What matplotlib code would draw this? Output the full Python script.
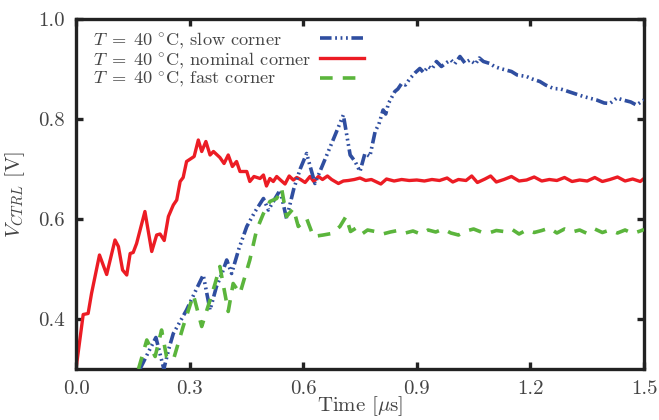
import matplotlib
matplotlib.use("Agg")
import matplotlib.pyplot as plt

plt.rcParams['font.family'] = 'serif'
plt.rcParams['font.serif'] = ['cmr10', 'DejaVu Serif']
plt.rcParams['mathtext.fontset'] = 'cm'
plt.rcParams['axes.formatter.use_mathtext'] = True

# ---------------- data ----------------
t_nom = [0.000, 0.019, 0.032, 0.041, 0.062, 0.081, 0.103, 0.112, 0.123, 0.134, 0.143, 0.151,
         0.160, 0.182, 0.200, 0.213, 0.222, 0.233, 0.244, 0.257, 0.266, 0.275, 0.283, 0.292,
         0.312, 0.323, 0.332, 0.343, 0.354, 0.363, 0.380, 0.391, 0.402, 0.413, 0.424, 0.433,
         0.451, 0.459, 0.470, 0.486, 0.495, 0.503, 0.512, 0.521, 0.530, 0.540, 0.552, 0.563,
         0.574, 0.583, 0.593, 0.605, 0.618, 0.628, 0.640, 0.651, 0.664, 0.675, 0.693, 0.706,
         0.719, 0.735, 0.750, 0.765, 0.780, 0.805, 0.820, 0.84, 0.86, 0.88, 0.90, 0.92, 0.94,
         0.96, 0.98, 0.995, 1.01, 1.03, 1.045, 1.06, 1.08, 1.095, 1.11, 1.13, 1.15, 1.17, 1.19,
         1.21, 1.23, 1.25, 1.27, 1.29, 1.31, 1.33, 1.35, 1.37, 1.39, 1.41, 1.43, 1.45, 1.47,
         1.49, 1.50]
v_nom = [0.300, 0.409, 0.411, 0.451, 0.528, 0.489, 0.558, 0.545, 0.498, 0.488, 0.531, 0.533,
         0.551, 0.615, 0.535, 0.568, 0.570, 0.557, 0.605, 0.628, 0.638, 0.675, 0.683, 0.715,
         0.725, 0.758, 0.735, 0.755, 0.728, 0.735, 0.723, 0.711, 0.728, 0.705, 0.715, 0.695,
         0.695, 0.675, 0.685, 0.681, 0.688, 0.666, 0.681, 0.675, 0.685, 0.678, 0.670, 0.686,
         0.678, 0.683, 0.679, 0.673, 0.685, 0.675, 0.685, 0.679, 0.686, 0.679, 0.671, 0.676,
         0.677, 0.679, 0.682, 0.677, 0.679, 0.670, 0.680, 0.676, 0.679, 0.677, 0.678, 0.676,
         0.679, 0.677, 0.682, 0.674, 0.679, 0.677, 0.686, 0.673, 0.680, 0.686, 0.674, 0.679,
         0.685, 0.676, 0.678, 0.684, 0.676, 0.679, 0.677, 0.683, 0.675, 0.678, 0.676, 0.683,
         0.675, 0.679, 0.684, 0.676, 0.680, 0.675, 0.681]

t_slow = [0.169, 0.190, 0.211, 0.232, 0.245, 0.257, 0.275, 0.292, 0.315, 0.336, 0.354, 0.371,
          0.385, 0.398, 0.411, 0.430, 0.451, 0.473, 0.495, 0.508, 0.525, 0.539, 0.556, 0.575,
          0.592, 0.609, 0.631, 0.653, 0.680, 0.706, 0.724, 0.737, 0.750, 0.763, 0.776, 0.790,
          0.800, 0.811, 0.818, 0.825, 0.835, 0.842, 0.850, 0.860, 0.870, 0.882, 0.895, 0.908,
          0.918, 0.930, 0.940, 0.952, 0.965, 0.979, 0.990, 1.000, 1.014, 1.027, 1.040, 1.055,
          1.065, 1.076, 1.093, 1.105, 1.120, 1.135, 1.150, 1.165, 1.190, 1.205, 1.225, 1.240,
          1.261, 1.280, 1.300, 1.320, 1.340, 1.355, 1.375, 1.395, 1.410, 1.428, 1.445, 1.465,
          1.480, 1.500]
v_slow = [0.300, 0.332, 0.363, 0.300, 0.340, 0.371, 0.395, 0.418, 0.455, 0.488, 0.418, 0.465,
          0.490, 0.518, 0.491, 0.540, 0.585, 0.615, 0.641, 0.618, 0.640, 0.658, 0.601, 0.660,
          0.700, 0.731, 0.671, 0.711, 0.760, 0.808, 0.728, 0.715, 0.695, 0.731, 0.725, 0.775,
          0.790, 0.818, 0.810, 0.831, 0.845, 0.855, 0.860, 0.871, 0.868, 0.881, 0.892, 0.901,
          0.893, 0.905, 0.900, 0.915, 0.905, 0.913, 0.918, 0.910, 0.925, 0.912, 0.918, 0.910,
          0.922, 0.915, 0.911, 0.905, 0.901, 0.898, 0.895, 0.888, 0.885, 0.880, 0.875, 0.868,
          0.861, 0.860, 0.855, 0.850, 0.845, 0.842, 0.838, 0.832, 0.831, 0.842, 0.838, 0.834,
          0.828, 0.838]

t_fast = [0.165, 0.187, 0.209, 0.226, 0.239, 0.257, 0.283, 0.297, 0.310, 0.332, 0.354, 0.367,
          0.380, 0.402, 0.415, 0.433, 0.459, 0.477, 0.495, 0.512, 0.530, 0.543, 0.556, 0.574,
          0.587, 0.609, 0.627, 0.653, 0.675, 0.697, 0.713, 0.725, 0.74, 0.755, 0.77, 0.79,
          0.81, 0.83, 0.85, 0.87, 0.89, 0.91, 0.93, 0.95, 0.97, 0.99, 1.01, 1.03, 1.05, 1.07,
          1.09, 1.11, 1.13, 1.15, 1.17, 1.19, 1.21, 1.23, 1.25, 1.27, 1.29, 1.31, 1.33, 1.35,
          1.37, 1.39, 1.41, 1.43, 1.45, 1.47, 1.49, 1.50]
v_fast = [0.300, 0.358, 0.325, 0.378, 0.325, 0.318, 0.385, 0.418, 0.448, 0.385, 0.438, 0.470,
          0.505, 0.415, 0.471, 0.451, 0.518, 0.578, 0.611, 0.635, 0.641, 0.661, 0.605, 0.621,
          0.585, 0.601, 0.565, 0.568, 0.571, 0.585, 0.605, 0.575, 0.582, 0.570, 0.578, 0.575,
          0.570, 0.574, 0.577, 0.572, 0.576, 0.570, 0.578, 0.574, 0.580, 0.572, 0.568, 0.576,
          0.580, 0.574, 0.572, 0.577, 0.575, 0.580, 0.570, 0.578, 0.573, 0.577, 0.582, 0.572,
          0.580, 0.574, 0.578, 0.571, 0.580, 0.573, 0.578, 0.572, 0.578, 0.571, 0.576, 0.579]

labels = [r"$T\;=\;40\ ^{\circ}\mathrm{C}$, slow corner",
          r"$T\;=\;40\ ^{\circ}\mathrm{C}$, nominal corner",
          r"$T\;=\;40\ ^{\circ}\mathrm{C}$, fast corner"]
x_ticks = [0.0, 0.3, 0.6, 0.9, 1.2, 1.5]
y_ticks = [0.4, 0.6, 0.8, 1.0]

# ---------------- figure ----------------
W, H = 659, 420
fig = plt.figure(figsize=(W / 100, H / 100), dpi=100)
ax_l, ax_r, ax_t, ax_b = 76, 644, 19, 369
ax = fig.add_axes([ax_l / W, 1 - ax_b / H, (ax_r - ax_l) / W, (ax_b - ax_t) / H])

c_blue = '#2f4ea0'
c_red = '#ec1c24'
c_green = '#5bb53c'
txt_c = '#444444'

ax.plot(t_slow, v_slow, color=c_blue, lw=2.6, dashes=(3.2, 1.0, 0.5, 1.0, 0.5, 1.0, 0.5, 1.0),
        label=labels[0], zorder=3)
ax.plot(t_nom, v_nom, color=c_red, lw=2.4, label=labels[1], zorder=2)
ax.plot(t_fast, v_fast, color=c_green, lw=2.6, dashes=(3.5, 2.8), label=labels[2], zorder=3)

ax.set_xlim(0, 1.5)
ax.set_ylim(0.3, 1.0)
ax.set_xticks(x_ticks)
ax.set_yticks(y_ticks)
ax.set_xticklabels([f"{v:.1f}" for v in x_ticks])
ax.set_yticklabels([f"{v:.1f}" for v in y_ticks])

for s in ax.spines.values():
    s.set_linewidth(2.4)
    s.set_color('#222222')

ax.tick_params(direction='in', length=5, width=2.4, color='#222222',
               top=True, right=True, labelsize=15, labelcolor=txt_c, pad=8)

ax.set_xlabel(r"Time [$\mu$s]", fontsize=15, color=txt_c, labelpad=-3)
ax.set_ylabel(r"$V_{CTRL}$ [V]", fontsize=15, color=txt_c, labelpad=8)

leg_fs = 13.2
leg = ax.legend(loc='upper left', frameon=False, markerfirst=False, fontsize=leg_fs,
                handlelength=2.4, handletextpad=0.45, labelspacing=0.0,
                borderaxespad=0.0, borderpad=0.0, labelcolor=txt_c,
                bbox_to_anchor=(17 / (ax_r - ax_l), 1 - 11 / (ax_b - ax_t)))

# left-align the legend labels (handles stay on the right)
fig.canvas.draw()
rend = fig.canvas.get_renderer()
texts = leg.get_texts()
bbs = [t.get_window_extent(rend) for t in texts]
x_left = min(b.x0 for b in bbs)
for t, b in zip(texts, bbs):
    t.set_x(-(b.x0 - x_left))

fig.savefig("out.png", dpi=100)
